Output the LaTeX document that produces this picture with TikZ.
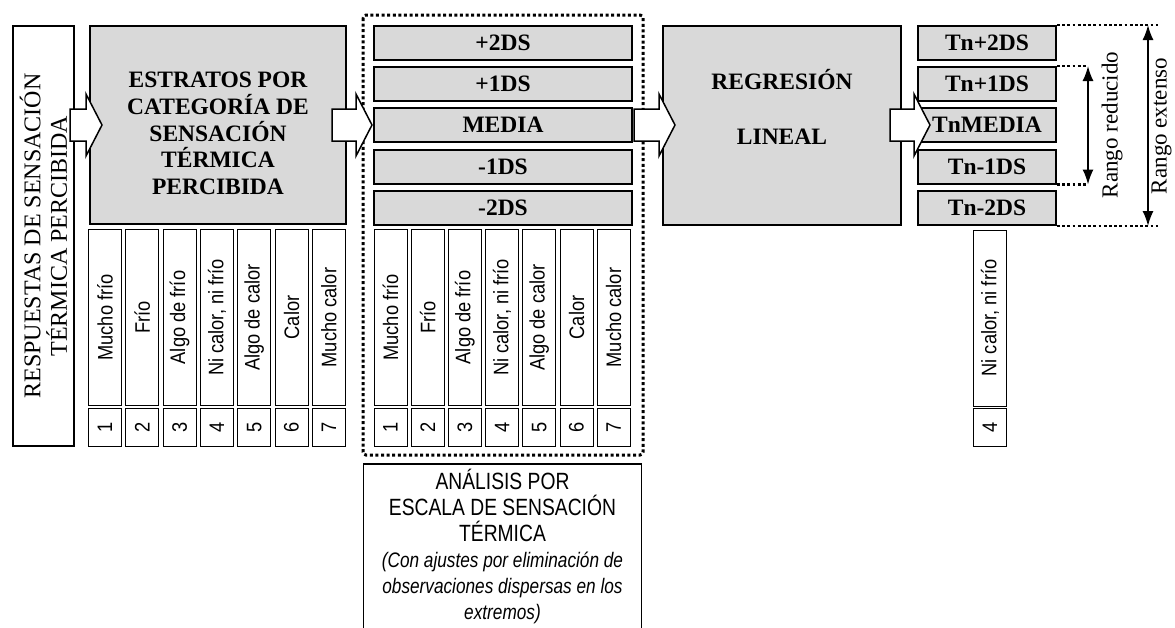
\documentclass[tikz,border=0pt]{standalone}
\usepackage{fontspec}
\setmainfont{Liberation Serif}
\newfontfamily\narrowsans[FakeStretch=0.82]{Liberation Sans}
\newfontfamily\colsans[FakeStretch=0.87]{Liberation Sans}
\usetikzlibrary{arrows.meta,calc}
\definecolor{boxgray}{HTML}{D9D9D9}
\begin{document}
\begin{tikzpicture}[x=1pt,y=-1pt,
  graybox/.style={draw, line width=2pt, fill=boxgray, inner sep=0pt, align=center,
    font=\bfseries\fontsize{23.5}{27}\selectfont},
  dsbox/.style={graybox, minimum width=258, minimum height=34},
  tnbox/.style={graybox, minimum width=138, minimum height=34},
  colbox/.style={draw, line width=1pt, rotate=90, inner sep=0pt, minimum width=176, minimum height=33,
    font=\colsans\fontsize{21}{24}\selectfont},
  numbox/.style={colbox, minimum width=38},
  barrow/.style={draw, line width=1.5pt, fill=white, line join=miter},
  dotline/.style={line width=2.8pt, dash pattern=on 2.8pt off 2.4pt},
  rangearr/.style={line width=1.6pt, {Latex[length=15pt,width=11pt]}-{Latex[length=15pt,width=11pt]}},
  lbl/.style={inner sep=0pt, font=\fontsize{23}{26}\selectfont}
]
\useasboundingbox (0,0) rectangle (1175,627);
\newcommand{\blockarrow}[2]{%
  \path (#1) coordinate (baT) (#2) coordinate (baH);
  \draw[barrow] ($(baT)+(0,-16)$) -- ($(baH)+(-16,-16)$) -- ($(baH)+(-16,-31)$) -- (baH)
    -- ($(baH)+(-16,31)$) -- ($(baH)+(-16,16)$) -- ($(baT)+(0,16)$) -- cycle;}

% left box
\node[draw, line width=2.4pt, rotate=90, minimum width=420, minimum height=61, inner sep=0pt,
  align=center, font=\fontsize{24}{26.5}\selectfont] (resp) at (43.5,236)
  {RESPUESTAS DE SENSACIÓN\\TÉRMICA PERCIBIDA};

% estratos box
\node[graybox, minimum width=256, minimum height=198] (estratos) at (218,125) {};
\node[inner sep=0pt, align=center, font=\bfseries\fontsize{23.5}{26.7}\selectfont] (esttxt) at (218,133.5)
  {ESTRATOS POR\\CATEGORÍA DE\\SENSACIÓN\\TÉRMICA\\PERCIBIDA};

% left columns
\foreach \t [count=\i] in {Mucho frío, Frío, Algo de frío, {Ni calor, ni frío}, Algo de calor, Calor, Mucho calor}{
  \node[colbox] (lcol\i) at ({105+37.3*(\i-1)},317.5) {\t};
  \node[numbox] (lnum\i) at ({105+37.3*(\i-1)},427.5) {\i};
}

% DS boxes
\node[dsbox] (ds0) at (503,43) {+2DS};
\node[dsbox] (ds1) at (503,84) {+1DS};
\node[dsbox] (ds2) at (503,125) {MEDIA};
\node[dsbox] (ds3) at (503,166.5) {-1DS};
\node[dsbox] (ds4) at (503,208) {-2DS};

% DS columns
\foreach \t [count=\i] in {Mucho frío, Frío, Algo de frío, {Ni calor, ni frío}, Algo de calor, Calor, Mucho calor}{
  \node[colbox] (mcol\i) at ({390.5+37.2*(\i-1)},317.5) {\t};
  \node[numbox] (mnum\i) at ({390.5+37.2*(\i-1)},427.5) {\i};
}

% dotted frame
\draw[line width=3pt, dash pattern=on 3pt off 2.6pt, rounded corners=3pt] (363,15) rectangle (643,455);

% analysis box
\begin{scope}
\clip (0,0) rectangle (1175,627);
\node[draw, line width=1.5pt, anchor=north, minimum width=278, minimum height=170, inner sep=0pt] (analysis) at (502.5,463) {};
\end{scope}
\node[inner sep=0pt, anchor=north, align=center, font=\narrowsans\fontsize{23.5}{26}\selectfont] (antxt) at (502.5,469)
  {ANÁLISIS POR\\ESCALA DE SENSACIÓN\\TÉRMICA\\
   {\itshape\fontsize{21}{26}\selectfont (Con ajustes por eliminación de}\\
   {\itshape\fontsize{21}{26}\selectfont observaciones dispersas en los}\\
   {\itshape\fontsize{21}{26}\selectfont extremos)}};

% regression box
\node[graybox, minimum width=238, minimum height=199] (regr) at (782,125.5) {};
\node[inner sep=0pt, anchor=base, font=\bfseries\fontsize{23.5}{27}\selectfont] (regt1) at (782,89.6) {REGRESIÓN};
\node[inner sep=0pt, anchor=base, font=\bfseries\fontsize{23.5}{27}\selectfont] (regt2) at (782,144.6) {LINEAL};

% Tn boxes
\node[tnbox] (tn0) at (987,43) {Tn+2DS};
\node[tnbox] (tn1) at (987,84) {Tn+1DS};
\node[tnbox] (tn2) at (987,125) {TnMEDIA};
\node[tnbox] (tn3) at (987,166.5) {Tn-1DS};
\node[tnbox] (tn4) at (987,208) {Tn-2DS};

% right column
\node[colbox] (rcol) at (990,318) {Ni calor, ni frío};
\node[numbox] (rnum) at (990,427.5) {4};

% block arrows
\blockarrow{$(estratos.west)+(-19,0)$}{$(estratos.west)+(13,0)$}
\blockarrow{$(estratos.east |- ds2.west)+(-15,0)$}{$(ds2.west)+(-1,0)$}
\blockarrow{$(ds2.east)+(1,0)$}{$(regr.west |- ds2.east)+(13,0)$}
\blockarrow{$(regr.east |- tn2.west)+(-12,0)$}{$(tn2.west)+(13,0)$}

% range lines
\draw[dotline] (tn0.north east) -- ++(101,0) coordinate (exTend);
\draw[dotline] (tn4.south east) -- ++(101,0) coordinate (exBend);
\draw[dotline] (tn1.north east) -- ++(30,0) coordinate (reTend);
\draw[dotline] (tn3.south east) -- ++(30,0) coordinate (reBend);
\coordinate (exT) at (1148,25);
\coordinate (exB) at (1148,226);
\coordinate (reT) at (1088,66);
\coordinate (reB) at (1088,184);
\draw[rangearr] (exT |- tn0.north) -- (exB |- tn4.south);
\draw[rangearr] (reT |- tn1.north) -- (reB |- tn3.south);
\node[lbl, rotate=90] (lblre) at (1112,125) {Rango reducido};
\node[lbl, rotate=90] (lblex) at (1161.5,126) {Rango extenso};
\end{tikzpicture}
\end{document}
